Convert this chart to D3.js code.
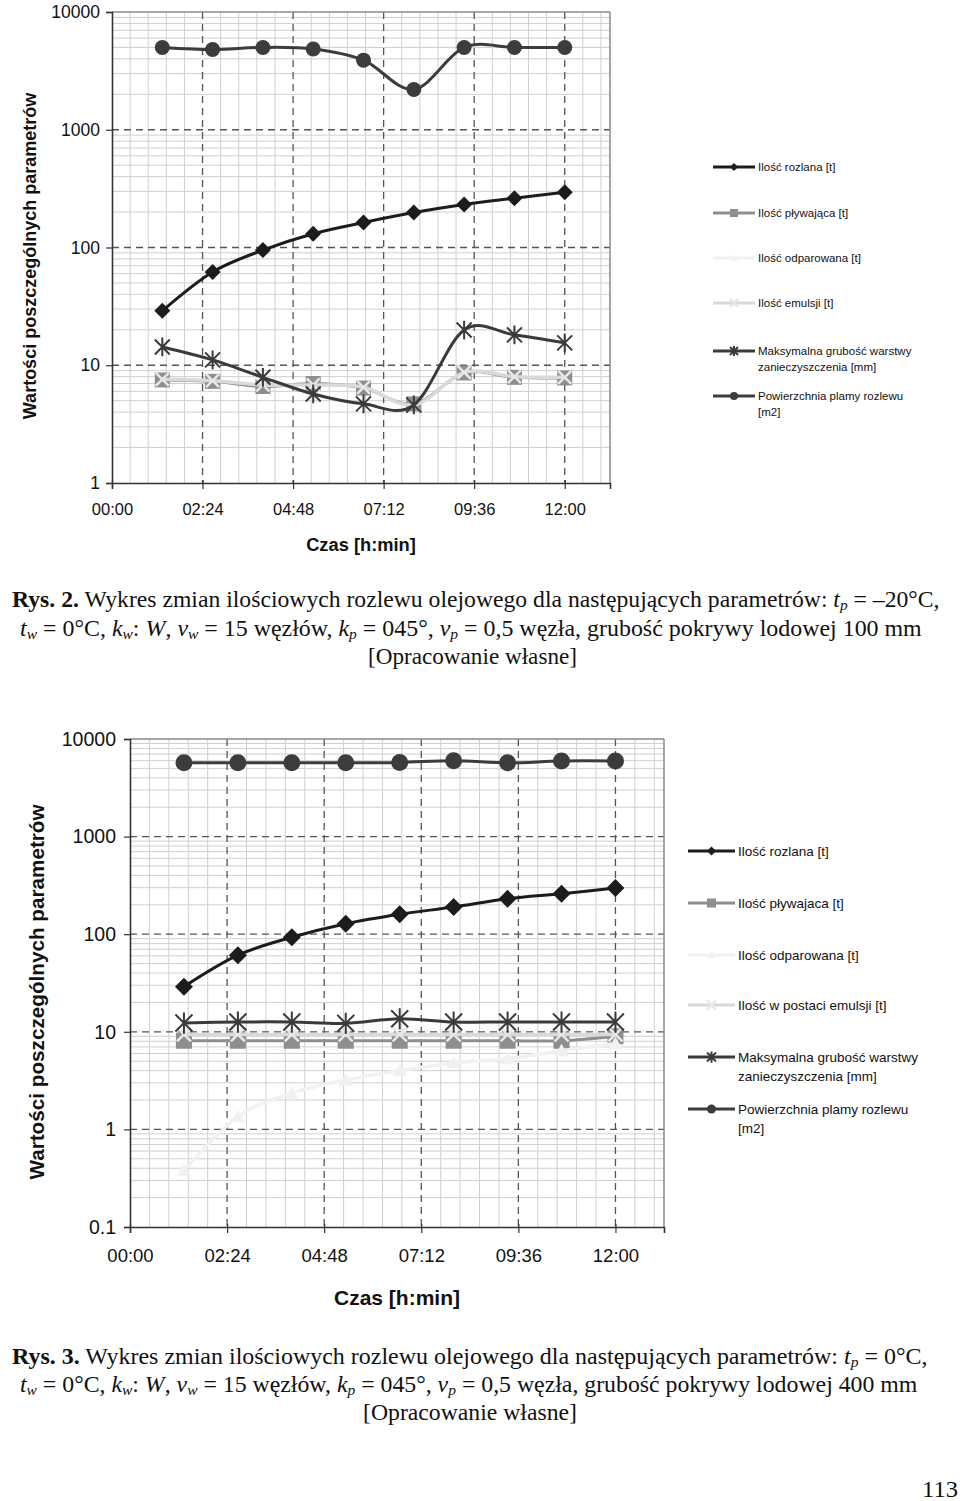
<!DOCTYPE html>
<html><head><meta charset="utf-8">
<script src="https://cdn.jsdelivr.net/npm/d3@7/dist/d3.min.js"></script>
<style>body{margin:0;background:#fff} svg{display:block}</style>
</head><body>
<svg id="page" width="960" height="1501"></svg>
<script>
// ---------- DATA ----------
const timeMinutes = [80, 160, 240, 320, 400, 480, 560, 640, 720];
const xTickMinutes = [0, 144, 288, 432, 576, 720];
const xTickLabels = ["00:00", "02:24", "04:48", "07:12", "09:36", "12:00"];
const xMinorStepMinutes = 28.8;
const xMaxMinutes = 792;

const yTickValuesTop = [1, 10, 100, 1000, 10000];
const yTickLabelsTop = ["1", "10", "100", "1000", "10000"];
const yTickValuesBottom = [0.1, 1, 10, 100, 1000, 10000];
const yTickLabelsBottom = ["0.1", "1", "10", "100", "1000", "10000"];

const seriesNamesTop = [
  ["Ilość rozlana [t]"],
  ["Ilość pływająca [t]"],
  ["Ilość odparowana [t]"],
  ["Ilość emulsji [t]"],
  ["Maksymalna grubość warstwy", "zanieczyszczenia [mm]"],
  ["Powierzchnia plamy rozlewu", "[m2]"]
];
const seriesNamesBottom = [
  ["Ilość rozlana [t]"],
  ["Ilość pływajaca [t]"],
  ["Ilość odparowana [t]"],
  ["Ilość w postaci emulsji [t]"],
  ["Maksymalna grubość warstwy", "zanieczyszczenia [mm]"],
  ["Powierzchnia plamy rozlewu", "[m2]"]
];

// Rys. 2 (top chart)
const rozlanaTop      = [29, 62, 95, 131, 163, 198, 232, 262, 295];
const plywajacaTop    = [7.5, 7.3, 6.6, 7.0, 6.4, 4.7, 8.6, 7.9, 7.8];
const odparowanaTop   = [];   // not visible on the reference (below axis range)
const emulsjaTop      = [7.6, 7.4, 6.8, 6.8, 6.5, 4.6, 8.7, 8.0, 7.9];
const grubloscTop     = [14.3, 11.1, 7.9, 5.7, 4.7, 4.6, 19.9, 18.1, 15.5];
const powierzchniaTop = [5000, 4800, 5000, 4850, 3900, 2200, 5000, 5000, 5000];

// Rys. 3 (bottom chart)
const rozlanaBottom      = [29, 61, 93, 128, 160, 190, 231, 260, 297];
const plywajacaBottom    = [8.1, 8.1, 8.1, 8.1, 8.1, 8.1, 8.1, 8.1, 9.0];
const odparowanaBottom   = [0.38, 1.35, 2.35, 3.2, 4.0, 4.8, 5.3, 6.4, 7.6];
const emulsjaBottom      = [9.4, 9.4, 9.4, 9.4, 9.4, 9.4, 9.4, 9.4, 9.4];
const grubloscBottom     = [12.3, 12.6, 12.6, 12.2, 13.6, 12.6, 12.6, 12.6, 12.6];
const powierzchniaBottom = [5700, 5700, 5700, 5700, 5750, 6000, 5700, 5950, 5950];

// ---------- STYLE ----------
const seriesStyles = [
  {color: "#1c1c1c", width: 3,   marker: "diamond",  mfill: "#1c1c1c"},
  {color: "#8e8e8e", width: 3,   marker: "square",   mfill: "#8e8e8e"},
  {color: "#f1f1f1", width: 3.5, marker: "triangle", mfill: "#f1f1f1"},
  {color: "#d9d9d9", width: 3.5, marker: "x",        mfill: "#e8e8e8"},
  {color: "#3a3a3a", width: 3,   marker: "asterisk", mfill: "#3a3a3a"},
  {color: "#3c3c3c", width: 3,   marker: "circle",   mfill: "#3c3c3c"}
];

const svg = d3.select("#page");
svg.append("rect").attr("width", 960).attr("height", 1501).attr("fill", "#fff");
const SANS = "'Liberation Sans', Arial, sans-serif";
const SERIF = "'Liberation Serif', 'Times New Roman', serif";

function drawMarker(g, type, cx, cy, s, fill, strokeCol) {
  if (type === "circle") {
    g.append("circle").attr("cx", cx).attr("cy", cy).attr("r", s).attr("fill", fill);
  } else if (type === "diamond") {
    g.append("path").attr("d", `M${cx},${cy - s}L${cx + s},${cy}L${cx},${cy + s}L${cx - s},${cy}Z`).attr("fill", fill);
  } else if (type === "square") {
    g.append("rect").attr("x", cx - s).attr("y", cy - s).attr("width", 2 * s).attr("height", 2 * s).attr("fill", fill);
  } else if (type === "triangle") {
    g.append("path").attr("d", `M${cx},${cy - s}L${cx + s},${cy + s * 0.8}L${cx - s},${cy + s * 0.8}Z`).attr("fill", fill);
  } else if (type === "x" || type === "asterisk") {
    const p = `M${cx - s},${cy - s}L${cx + s},${cy + s}M${cx - s},${cy + s}L${cx + s},${cy - s}` +
      (type === "asterisk" ? `M${cx},${cy - s * 1.25}L${cx},${cy + s * 1.25}` : "");
    g.append("path").attr("d", p).attr("stroke", strokeCol || fill).attr("stroke-width", type === "x" ? 2.5 : 2).attr("fill", "none");
  }
}

function drawChart(o) {
  const g = svg.append("g");
  const x = d3.scaleLinear().domain([0, xMaxMinutes]).range([o.left, o.right]);
  const y = d3.scaleLog().domain([o.yTicks[0], o.yTicks[o.yTicks.length - 1]]).range([o.bottom, o.top]);

  // minor grid
  const minorY = y.ticks().filter(v => !o.yTicks.some(t => Math.abs(t - v) / t < 1e-6));
  g.selectAll(".mgy").data(minorY).join("line")
    .attr("x1", o.left).attr("x2", o.right).attr("y1", d => y(d)).attr("y2", d => y(d))
    .attr("stroke", "#cfcfcf").attr("stroke-width", 1);
  const minorX = d3.range(0, xMaxMinutes + 0.01, xMinorStepMinutes)
    .filter(v => !xTickMinutes.some(t => Math.abs(t - v) < 0.01));
  g.selectAll(".mgx").data(minorX).join("line")
    .attr("x1", d => x(d)).attr("x2", d => x(d)).attr("y1", o.top).attr("y2", o.bottom)
    .attr("stroke", "#cfcfcf").attr("stroke-width", 1);

  // major dashed grid
  g.selectAll(".Mgy").data(o.yTicks.slice(1, -1)).join("line")
    .attr("x1", o.left).attr("x2", o.right).attr("y1", d => y(d)).attr("y2", d => y(d))
    .attr("stroke", "#555").attr("stroke-width", 1.3).attr("stroke-dasharray", "7,5");
  g.selectAll(".Mgx").data(xTickMinutes.slice(1)).join("line")
    .attr("x1", d => x(d)).attr("x2", d => x(d)).attr("y1", o.top).attr("y2", o.bottom)
    .attr("stroke", "#555").attr("stroke-width", 1.3).attr("stroke-dasharray", "7,5");

  // frame
  g.append("line").attr("x1", o.left).attr("x2", o.right).attr("y1", o.top).attr("y2", o.top).attr("stroke", "#8a8a8a").attr("stroke-width", 1.5);
  g.append("line").attr("x1", o.right).attr("x2", o.right).attr("y1", o.top).attr("y2", o.bottom).attr("stroke", "#8a8a8a").attr("stroke-width", 1.5);

  // axes
  const yAxis = d3.axisLeft(y).tickValues(o.yTicks).tickFormat((d, i) => o.yLabels[i]).tickSize(6).tickPadding(o.yPad);
  const ya = g.append("g").attr("transform", `translate(${o.left},0)`).call(yAxis);
  const xAxis = d3.axisBottom(x).tickValues(xTickMinutes).tickFormat((d, i) => xTickLabels[i]).tickSize(6).tickPadding(o.xPad);
  const xa = g.append("g").attr("transform", `translate(0,${o.bottom})`).call(xAxis);
  [ya, xa].forEach(a => {
    a.select(".domain").attr("stroke", "#333").attr("stroke-width", 1.6);
    a.selectAll(".tick line").attr("stroke", "#333").attr("stroke-width", 1.2);
    a.selectAll("text").attr("font-family", SANS).attr("fill", "#111");
  });
  ya.selectAll("text").attr("font-size", o.yTickFont);
  xa.selectAll("text").attr("font-size", o.xTickFont);
  xa.selectAll(".tick line").attr("y1", -3);

  // series
  const line = d3.line().defined(d => d.v != null).x(d => x(d.t)).y(d => y(d.v))
    .curve(d3.curveCardinal.tension(0));
  o.series.forEach((vals, si) => {
    const st = seriesStyles[si];
    const pts = vals.map((v, i) => ({t: timeMinutes[i], v}));
    if (!pts.length) return;
    const sg = g.append("g");
    sg.append("path").attr("d", line(pts)).attr("fill", "none")
      .attr("stroke", st.color).attr("stroke-width", st.width).attr("stroke-linejoin", "round");
    pts.forEach(p => drawMarker(sg, st.marker, x(p.t), y(p.v), o.msize[st.marker], st.mfill));
  });

  // axis titles
  svg.append("text").attr("x", o.xTitle[0]).attr("y", o.xTitle[1]).attr("text-anchor", "middle")
    .attr("dominant-baseline", "central").attr("font-family", SANS).attr("font-weight", "bold")
    .attr("font-size", o.titleFont).attr("fill", "#111").text("Czas [h:min]");
  svg.append("text").attr("transform", `translate(${o.yTitle[0]},${o.yTitle[1]}) rotate(-90)`)
    .attr("text-anchor", "middle").attr("dominant-baseline", "central").attr("font-family", SANS)
    .attr("font-weight", "bold").attr("font-size", o.yTitleFont).attr("fill", "#111")
    .text("Wartości poszczególnych parametrów");

  // legend
  const lg = svg.append("g");
  o.names.forEach((lines, i) => {
    const st = seriesStyles[i];
    const ly = o.legend.ys[i];
    lg.append("line").attr("x1", o.legend.x1).attr("x2", o.legend.x2).attr("y1", ly).attr("y2", ly)
      .attr("stroke", st.color).attr("stroke-width", 3);
    drawMarker(lg, st.marker, (o.legend.x1 + o.legend.x2) / 2, ly, o.legend.ms, st.mfill);
    lines.forEach((t, k) => {
      lg.append("text").attr("x", o.legend.tx).attr("y", ly + k * o.legend.lh).attr("dominant-baseline", "central")
        .attr("font-family", SANS).attr("font-size", o.legend.font).attr("fill", "#111").text(t);
    });
  });
}

drawChart({
  left: 112, right: 610, top: 12, bottom: 483,
  yTicks: yTickValuesTop, yLabels: yTickLabelsTop,
  series: [rozlanaTop, plywajacaTop, odparowanaTop, emulsjaTop, grubloscTop, powierzchniaTop],
  names: seriesNamesTop,
  msize: {circle: 7.5, diamond: 8, square: 7.5, triangle: 6, x: 6.5, asterisk: 7.5},
  yTickFont: 17.5, xTickFont: 16.5, xPad: 14, yPad: 6, titleFont: 18.3, yTitleFont: 18,
  xTitle: [361, 544], yTitle: [30, 256],
  legend: {x1: 713, x2: 755, tx: 758, font: 11.5, lh: 16, ms: 4, ys: [167, 213, 258, 303, 351, 396]}
});
drawChart({
  left: 130, right: 664, top: 739, bottom: 1227,
  yTicks: yTickValuesBottom, yLabels: yTickLabelsBottom,
  series: [rozlanaBottom, plywajacaBottom, odparowanaBottom, emulsjaBottom, grubloscBottom, powierzchniaBottom],
  names: seriesNamesBottom,
  msize: {circle: 8.5, diamond: 9, square: 8, triangle: 7, x: 7, asterisk: 8.5},
  yTickFont: 19.5, xTickFont: 18.5, xPad: 16, yPad: 8, titleFont: 21, yTitleFont: 20.7,
  xTitle: [397, 1297], yTitle: [36, 992],
  legend: {x1: 688, x2: 735, tx: 738, font: 13.5, lh: 19, ms: 4.5, ys: [851, 903, 955, 1005, 1057, 1109]}
});

// ---------- CAPTIONS ----------
function captionLine(yBase, parts, left, right, size) {
  const t = svg.append("text").attr("x", 0).attr("y", 0).attr("font-family", SERIF)
    .attr("font-size", size).attr("fill", "#111");
  const shift = size * 0.15;
  parts.forEach(p => {
    const ts = t.append("tspan").text(p.t);
    if (p.b) ts.attr("font-weight", "bold");
    if (p.i) ts.attr("font-style", "italic");
    if (p.s) ts.attr("font-size", size * 0.65).attr("dy", shift);
    if (p.after) ts.attr("dy", -shift);
  });
  const w = t.node().getComputedTextLength();
  const sx = (right - left) / w;
  t.attr("transform", `translate(${left},${yBase}) scale(${sx},1)`);
}
function paramLine(ice) {
  return [
    {t: "t", i: 1}, {t: "w", i: 1, s: 1}, {t: " = 0°C, ", after: 1},
    {t: "k", i: 1}, {t: "w", i: 1, s: 1}, {t: ": ", after: 1}, {t: "W", i: 1}, {t: ", "},
    {t: "v", i: 1}, {t: "w", i: 1, s: 1}, {t: " = 15 węzłów, ", after: 1},
    {t: "k", i: 1}, {t: "p", i: 1, s: 1}, {t: " = 045°, ", after: 1},
    {t: "v", i: 1}, {t: "p", i: 1, s: 1}, {t: " = 0,5 węzła, grubość pokrywy lodowej " + ice + " mm", after: 1}
  ];
}
const FS = 23;
captionLine(607, [{t: "Rys. 2.", b: 1}, {t: " Wykres zmian ilościowych rozlewu olejowego dla następujących parametrów: "},
  {t: "t", i: 1}, {t: "p", i: 1, s: 1}, {t: " = –20°C,", after: 1}], 12, 940, FS);
captionLine(636, paramLine("100"), 20, 922, FS);
captionLine(664, [{t: "[Opracowanie własne]"}], 368, 577, FS);

captionLine(1364, [{t: "Rys. 3.", b: 1}, {t: " Wykres zmian ilościowych rozlewu olejowego dla następujących parametrów: "},
  {t: "t", i: 1}, {t: "p", i: 1, s: 1}, {t: " = 0°C,", after: 1}], 12, 928, FS);
captionLine(1392, paramLine("400"), 20, 918, FS);
captionLine(1420, [{t: "[Opracowanie własne]"}], 363, 577, FS);

captionLine(1497, [{t: "113"}], 922, 958, FS);
</script>
</body></html>
